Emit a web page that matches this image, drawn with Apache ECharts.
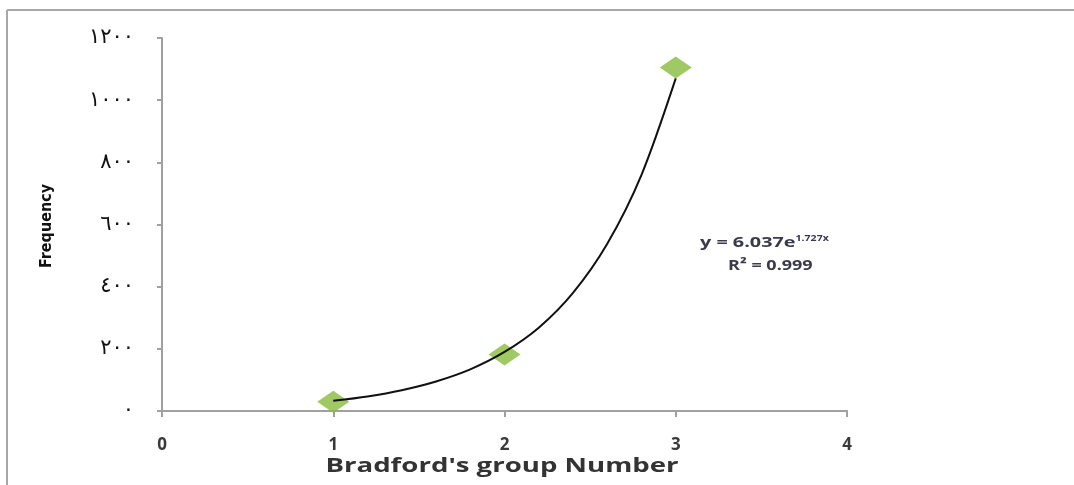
<!DOCTYPE html>
<html><head><meta charset="utf-8">
<script src="https://cdn.jsdelivr.net/npm/echarts@6/dist/echarts.min.js"></script>
<style>html,body{margin:0;padding:0;background:#fff}#c{width:1074px;height:485px}</style>
</head><body><div id="c"></div>
<script>
const groupNumbers = [1, 2, 3];
const frequencies = [30, 182, 1105];
const trendX = [1.0, 1.2, 1.4, 1.6, 1.8, 2.0, 2.2, 2.4, 2.6, 2.8, 3.0];
const trendY = [33, 47, 67, 95, 134, 190, 268, 380, 538, 760, 1070];
const yTickLabels = {0:'٠',200:'٢٠٠',400:'٤٠٠',600:'٦٠٠',800:'٨٠٠',1000:'١٠٠٠',1200:'١٢٠٠'};
const xTickLabels = ['0','1','2','3','4'];
const xTitle = "Bradford's group Number";
const yTitle = 'Frequency';

const chart = echarts.init(document.getElementById('c'));
chart.setOption({
  animation:false,
  backgroundColor:'#fff',
  grid:{left:162,right:227,top:38,bottom:74},
  xAxis:{type:'value',min:0,max:4,interval:1,
    axisLine:{lineStyle:{color:'#a0a0a0',width:2}},
    axisTick:{show:true,length:6,lineStyle:{color:'#a0a0a0',width:2}},
    axisLabel:{margin:26,fontFamily:'Open Sans',fontSize:17,fontWeight:'bold',color:'#3a3a3a',
      formatter:v=>xTickLabels[v]},
    splitLine:{show:false}},
  yAxis:{type:'value',min:0,max:1200,interval:200,
    axisLine:{show:true,lineStyle:{color:'#a0a0a0',width:2}},
    axisTick:{show:true,length:5,lineStyle:{color:'#a0a0a0',width:2}},
    axisLabel:{margin:28,fontFamily:'DejaVu Sans',fontSize:21,color:'#111',
      padding:[10,0,0,0],formatter:v=>yTickLabels[v]},
    splitLine:{show:false}},
  series:[
    {type:'line',smooth:0.3,showSymbol:false,
      data:trendX.map((x,i)=>[x,trendY[i]]),
      lineStyle:{color:'#111',width:2},z:3},
    {type:'scatter',symbol:'diamond',symbolSize:[32,22],
      data:groupNumbers.map((x,i)=>[x,frequencies[i]]),
      itemStyle:{color:'#88bc3c'},z:2}
  ],
  graphic:[
    {type:'line',shape:{x1:7,y1:10,x2:1074,y2:10},style:{stroke:'#a8a8a8',lineWidth:2}},
    {type:'line',shape:{x1:7,y1:10,x2:7,y2:485},style:{stroke:'#a8a8a8',lineWidth:2}},
    {type:'text',x:502,y:466,scaleX:1.38,style:{text:xTitle,fontFamily:'Open Sans',fontWeight:'bold',
      fontSize:20,fill:'#333',align:'center',verticalAlign:'middle'}},
    {type:'text',x:47,y:226,rotation:Math.PI/2,style:{text:yTitle,fontFamily:'DejaVu Sans Condensed, DejaVu Sans',fontWeight:'bold',
      fontSize:16,fill:'#111',align:'center',verticalAlign:'middle'}},
    {type:'text',x:700,y:243,scaleX:1.32,style:{
      text:'{a|y = 6.037e}{s|1.727x}',verticalAlign:'middle',
      rich:{a:{fontFamily:'Open Sans',fontSize:15,fontWeight:'bold',fill:'#3a3a4a'},
            s:{fontFamily:'Open Sans',fontSize:8,fontWeight:'bold',fill:'#3a3a4a',verticalAlign:'top',padding:[0,0,8,0]}}}},
    {type:'text',x:728,y:266,scaleX:1.2,style:{verticalAlign:'middle',
      text:'R² = 0.999',fontFamily:'Open Sans',fontSize:15,fontWeight:'bold',fill:'#3a3a4a'}}
  ]
});
</script></body></html>
